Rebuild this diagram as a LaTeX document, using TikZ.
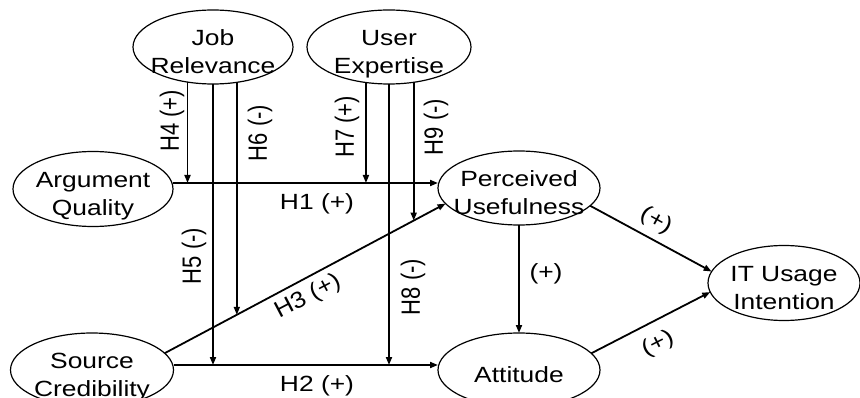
\documentclass[tikz,border=0pt]{standalone}
\usepackage{fontspec}
\setmainfont{Liberation Sans}
\usetikzlibrary{shapes.geometric,arrows.meta,intersections}
\newcommand\ovtxt[1]{\makebox[0pt]{\smash{\raisebox{-11.6pt}{\scalebox{1.2}[1]{\begin{tabular}{@{}c@{}}#1\end{tabular}}}}}}
\newcommand\hl[1]{\scalebox{1.2}[1]{#1}}
\newcommand\vl[1]{\scalebox{1}[1.2]{#1}}
\begin{document}
\begin{tikzpicture}[x=1pt,y=-1pt,
  oval/.style={draw, ellipse, line width=1.2pt, inner sep=0pt, outer sep=0pt, font=\fontsize{22}{28}\selectfont},
  arr/.style={line width=1.8pt, -{Triangle[length=8pt,width=6pt]}},
  lbl/.style={font=\fontsize{22}{28}\selectfont, inner sep=0pt}]
\useasboundingbox (0,0) rectangle (860,398);
\node[oval, minimum width=160pt, minimum height=74pt] (JR) at (213,47) {\ovtxt{Job\\Relevance}};
\node[oval, minimum width=164pt, minimum height=74pt] (UE) at (389,47) {\ovtxt{User\\Expertise}};
\node[oval, minimum width=160pt, minimum height=75pt] (AQ) at (93,189) {\ovtxt{Argument\\Quality}};
\node[oval, minimum width=162pt, minimum height=74pt] (PU) at (519,188) {\ovtxt{Perceived\\Usefulness}};
\node[oval, minimum width=163pt, minimum height=74pt] (SC) at (92,370) {\ovtxt{Source\\Credibility}};
\node[oval, minimum width=162pt, minimum height=74pt] (AT) at (519,370) {\ovtxt{Attitude}};
\node[oval, minimum width=152pt, minimum height=75pt] (IT) at (784,283) {\ovtxt{IT Usage\\Intention}};
% main paths
\coordinate (h1s) at ([yshift=6pt]AQ.east);
\coordinate (h1e) at ([yshift=5pt]PU.west);
\draw[arr] (h1s) -- (h1e);
\coordinate (h2s) at ([yshift=5pt]SC.east);
\coordinate (h2e) at ([yshift=5pt]AT.west);
\draw[arr] (h2s) -- (h2e);
\draw[arr, name path=h3] (SC.13.9) -- (PU.192.9);
\draw[arr] (PU.south) -- (AT.north);
\draw[arr] (PU.346.9) -- (IT.171.3);
\draw[arr] (AT.13.1) -- (IT.187.9);
% moderators
\draw[arr] (JR.234.5) -- (JR.234.5 |- h1s);
\draw[arr] (JR.south) -- (JR.south |- h2s);
\path[name path=v6] (JR.304.2) -- ++(0,400);
\draw[arr, name intersections={of=v6 and h3, by=i6}] (JR.304.2) -- (i6);
\draw[arr] (UE.237.1) -- (UE.237.1 |- h1s);
\draw[arr] (UE.south) -- (UE.south |- h2s);
\path[name path=v9] (UE.305.4) -- ++(0,400);
\draw[arr, name intersections={of=v9 and h3, by=i9}] (UE.305.4) -- (i9);
% labels
\node[lbl, rotate=90] (l4) at (172,121) {\vl{H4 (+)}};
\node[lbl, rotate=90] (l6) at (260,133) {\vl{H6 (-)}};
\node[lbl, rotate=90] (l7) at (347,127) {\vl{H7 (+)}};
\node[lbl, rotate=90] (l9) at (436,127) {\vl{H9 (-)}};
\node[lbl, rotate=90] (l5) at (194,256) {\vl{H5 (-)}};
\node[lbl, rotate=90] (l8) at (413,287) {\vl{H8 (-)}};
\node[lbl] (l1) at (317,204) {\hl{H1 (+)}};
\node[lbl] (l2) at (317,386) {\hl{H2 (+)}};
\node[lbl, rotate=27.7] (l3) at (308,297) {\scalebox{1.15}[1.05]{H3 (+)}};
\node[lbl] (lpa) at (546,274) {\hl{(+)}};
\node[lbl, rotate=-29] (lpi) at (656,221) {\hl{(+)}};
\node[lbl, rotate=27] (lai) at (658,344) {\hl{(+)}};
\end{tikzpicture}
\end{document}
